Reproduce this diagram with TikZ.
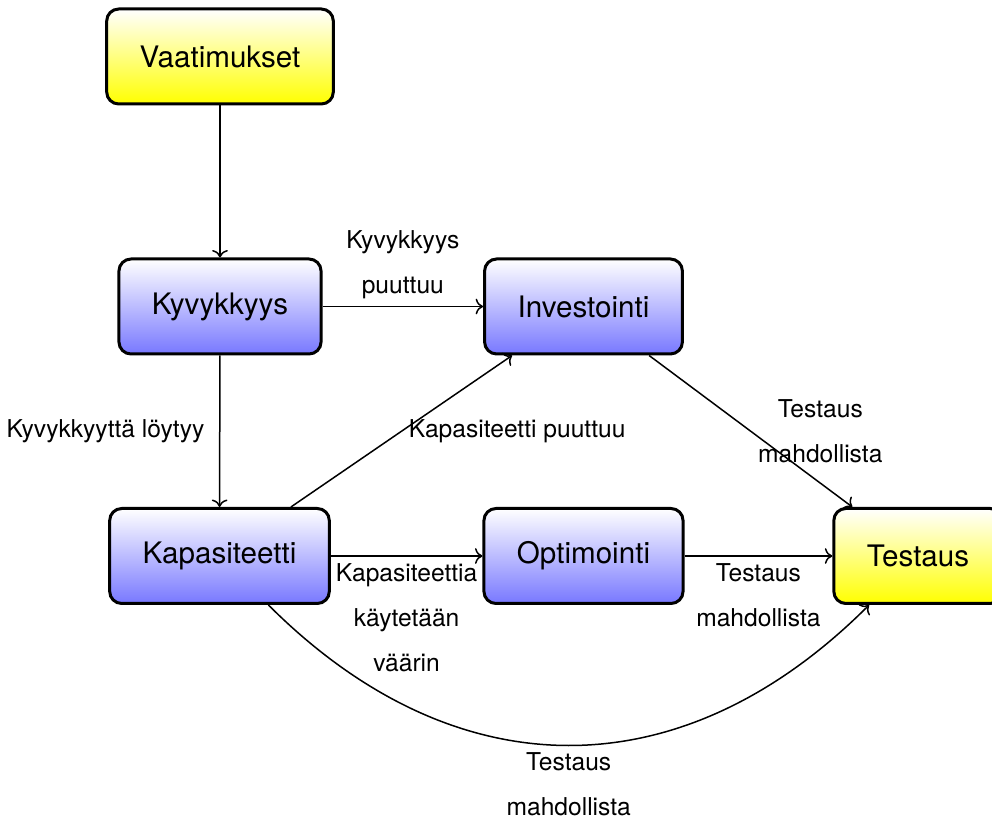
\documentclass[tikz,border=0pt]{standalone}
\usepackage{fontspec}
\setmainfont{TeX Gyre Heros}
\usepackage{tikz}
\usetikzlibrary{arrows.meta,positioning}
\definecolor{boxblue}{HTML}{7878FF}
\definecolor{boxyellow}{HTML}{FFFF00}

\begin{document}
\begin{tikzpicture}[x=0.5pt,y=0.5pt,
  every node/.style={font=\fontsize{12.3}{22.5}\selectfont,align=center},
  stage/.style={rounded corners=6pt,draw=black,line width=1.5pt,top color=white,bottom color=boxblue,
    inner xsep=16.5pt,minimum height=47.5pt,font=\fontsize{14.8}{17}\selectfont},
  goal/.style={stage,bottom color=boxyellow},
  arr/.style={-{To[scale=1.15]},line width=0.75pt,draw=black}]
  \useasboundingbox (0,0) rectangle (992,-823);
  \node[goal] (vaat) at (220,-56.5) {Vaatimukset};
  \node[stage] (kyv) at (220,-306.5) {Kyvykkyys};
  \node[stage] (inv) at (583.5,-306.5) {Investointi};
  \node[stage] (kap) at (219.5,-556) {Kapasiteetti};
  \node[stage] (opt) at (583.5,-556) {Optimointi};
  \node[goal] (test) at (918,-556) {Testaus};
  \draw[arr] (vaat)--(kyv);
  \draw[arr] (kyv)--(inv) node[midway,above] {Kyvykkyys\\puuttuu};
  \draw[arr] (kyv)--(kap) node[midway,left=4pt] {Kyvykkyyttä löytyy};
  \draw[arr] (kap)--(inv) node[midway,right] {Kapasiteetti puuttuu};
  \draw[arr] (kap)--(opt) node[midway,below] {Kapasiteettia\\käytetään\\väärin};
  \draw[arr] (opt)--(test) node[midway,below] {Testaus\\mahdollista};
  \draw[arr] (inv)--(test) node[midway,right] {Testaus\\mahdollista};
  \draw[arr] (kap) to[bend right=45,looseness=1.13] node[midway,below] {Testaus\\mahdollista} (test);
\end{tikzpicture}
\end{document}
